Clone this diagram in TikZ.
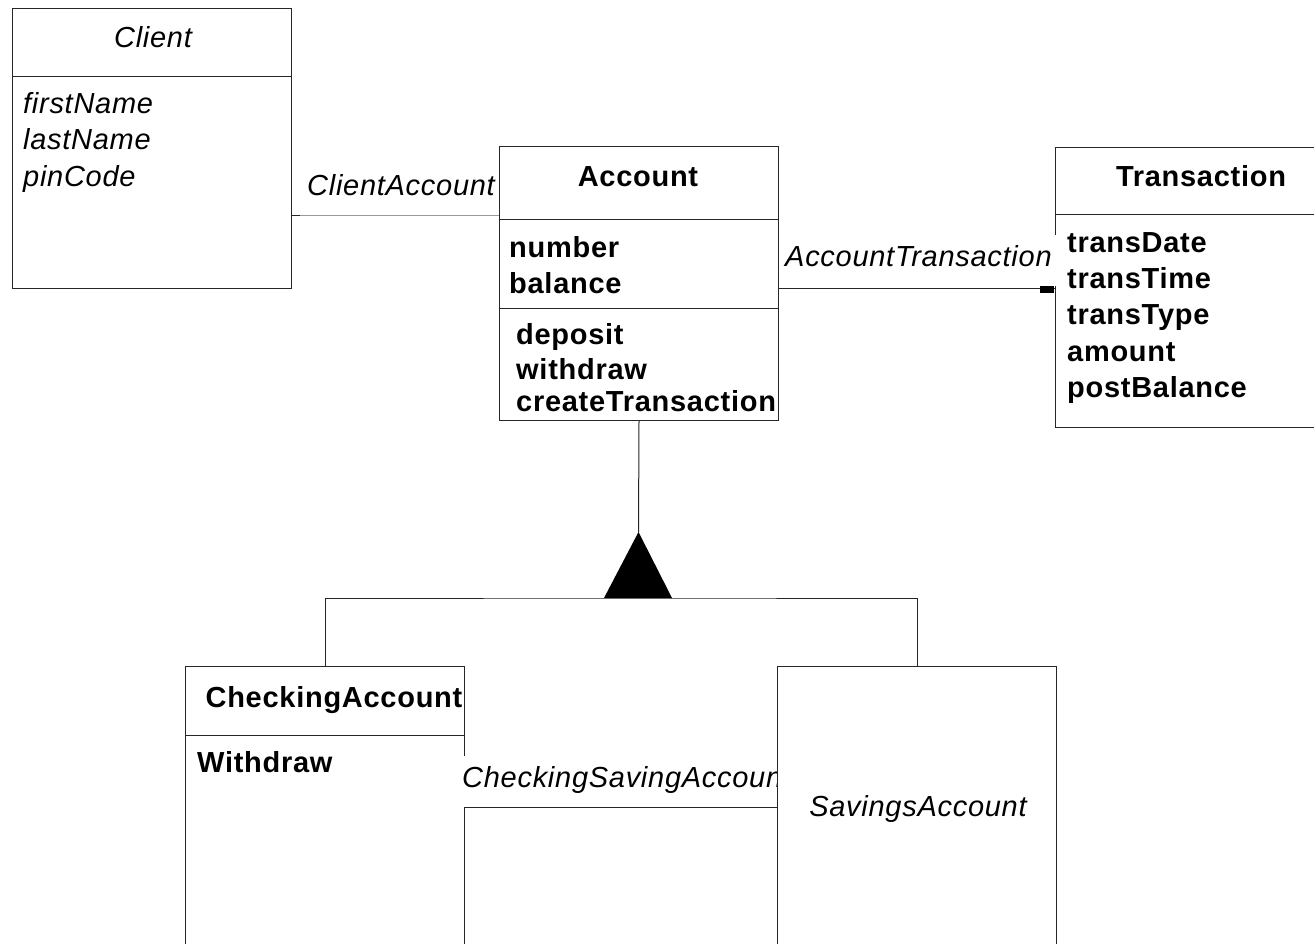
\documentclass[tikz,border=0pt]{standalone}
\usepackage{fontspec}
\setmainfont{Liberation Sans}[LetterSpace=2.5]
\newcommand\umlfs{\fontsize{29}{37}\selectfont}
\begin{document}
\begin{tikzpicture}[x=1pt,y=-1pt,
  box/.style={draw=black!85, line width=1pt, fill=white, anchor=north west, inner sep=0pt},
  txt/.style={anchor=base west, inner sep=0pt, font=\umlfs},
  btxt/.style={txt, font=\umlfs\bfseries},
  itxt/.style={txt, font=\umlfs\itshape},
  lbl/.style={fill=white, font=\umlfs\itshape, text height=28pt, text depth=17pt, inner ysep=3pt, inner xsep=4pt, anchor=base west},
  conn/.style={line width=1pt, draw=black!85},
  div/.style={line width=1pt, draw=black!85}]
\useasboundingbox (0,0) rectangle (1314,944);

% Client
\node[box, minimum width=279pt, minimum height=280pt] (client) at (12,8) {};
\draw[div] (client.west |- 0,77) -- (client.east |- 0,77);
\node[itxt, anchor=base] (clientname) at (153,48) {Client};
\node[itxt] (c1) at (23,114) {firstName};
\node[itxt] (c2) at (23,150) {lastName};
\node[itxt] (c3) at (23,187) {pinCode};

% Account
\node[box, minimum width=279pt, minimum height=274pt] (account) at (499,146) {};
\draw[div] (account.west |- 0,220) -- (account.east |- 0,220);
\draw[div] (account.west |- 0,308) -- (account.east |- 0,308);
\node[btxt, anchor=base] (accountname) at (638,186) {Account};
\node[btxt] (a1) at (509,257) {number};
\node[btxt] (a2) at (509,293) {balance};
\node[btxt] (a3) at (516,344) {deposit};
\node[btxt] (a4) at (516,379) {withdraw};
\node[btxt] (a5) at (516,411) {createTransaction};

% Transaction
\node[box, minimum width=275pt, minimum height=280pt] (transaction) at (1055,147) {};
\draw[div] (transaction.west |- 0,215) -- (transaction.east |- 0,215);
\node[btxt, anchor=base] (transname) at (1201,187) {Transaction};
\node[btxt] (t1) at (1067,252) {transDate};
\node[btxt] (t2) at (1067,288) {transTime};
\node[btxt] (t3) at (1067,324) {transType};
\node[btxt] (t4) at (1067,361) {amount};
\node[btxt] (t5) at (1067,397) {postBalance};

% CheckingAccount
\node[box, minimum width=279pt, minimum height=300pt] (checking) at (185,666) {};
\draw[div] (checking.west |- 0,735) -- (checking.east |- 0,735);
\node[btxt, anchor=base] (checkname) at (334,707) {CheckingAccount};
\node[btxt] (ch1) at (197,772) {Withdraw};

% association labels
\node[lbl] (lca) at (303,196) {ClientAccount};
\node[lbl] (lat) at (781,266) {AccountTransaction};
\node[lbl] (lcs) at (458,787) {CheckingSavingAccount};

% SavingsAccount (drawn after the label, covers its end)
\node[box, minimum width=279pt, minimum height=300pt] (savings) at (777,666) {};
\node[itxt, anchor=base] (savname) at (918,816) {SavingsAccount};

% associations
\draw[conn, draw=black!40] (client.east |- 0,216) -- (account.west |- 0,216);
\draw[conn] (client.east |- 0,216) -- ++(8,0);
\draw[conn] (account.east |- 0,288) -- (transaction.west |- 0,288);
\fill[black] (1040,286) rectangle (1054,293);
\draw[conn] (checking.east |- 0,807) -- (savings.west |- 0,807);

% generalization
\coordinate (apex) at (638.5,532);
\coordinate (tribase) at (638.5,598);
\draw[conn] (account.south) -- (apex);
\fill[black] (apex) -- (604,598) -- (672,598) -- cycle;
\draw[conn] (checking.north) |- (tribase) -| (savings.north);
\end{tikzpicture}
\end{document}
